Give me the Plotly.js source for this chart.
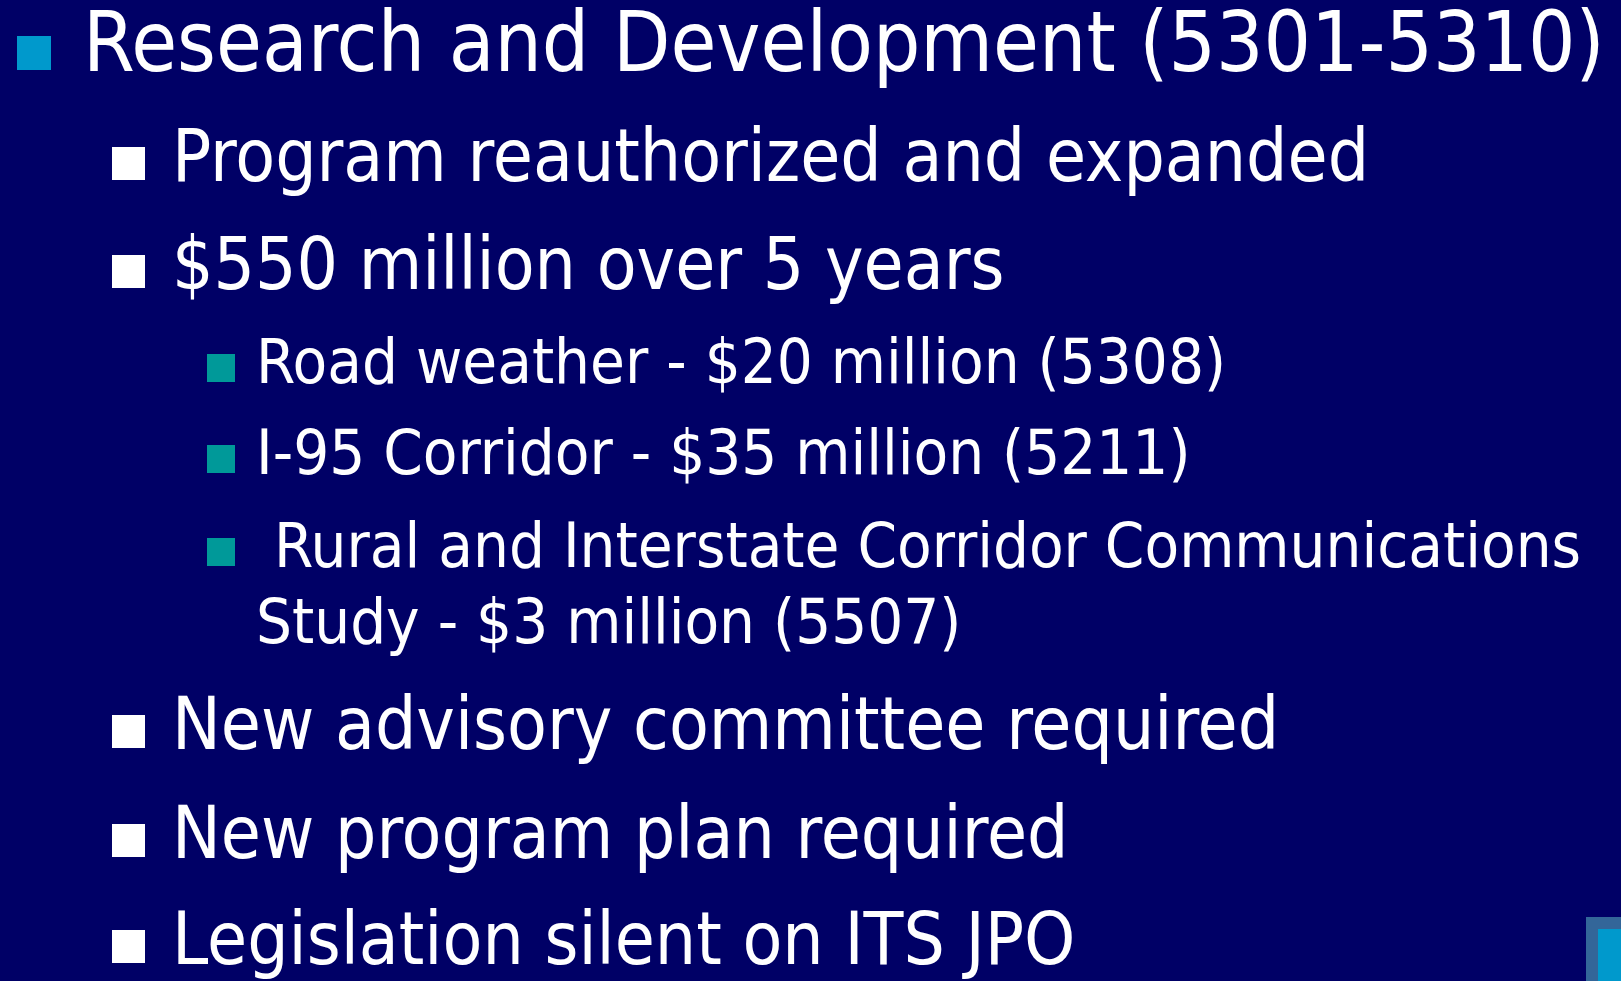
<!DOCTYPE html>
<html>
<head>
<meta charset="utf-8">
<script src="https://cdn.plot.ly/plotly-3.0.1.min.js"></script>
<style>
html,body{margin:0;padding:0;background:#000066;overflow:hidden;}
#slide{width:1621px;height:981px;}
</style>
</head>
<body>
<div id="slide"></div>
<script>
// ---- content ----
const itemText = [
  "Research and Development (5301-5310)",
  "Program reauthorized and expanded",
  "$550 million over 5 years",
  "Road weather - $20 million (5308)",
  "I-95 Corridor - $35 million (5211)",
  "\u00a0Rural and Interstate Corridor Communications",
  "Study - $3 million (5507)",
  "New advisory committee required",
  "New program plan required",
  "Legislation silent on ITS JPO"
];
const itemLevel  = [0, 1, 1, 2, 2, 2, 2, 1, 1, 1];
const itemBullet = [true, true, true, true, true, true, false, true, true, true];

// ---- layout / style (not data) ----
const baselineY = [73, 183, 291, 385, 476, 569, 645, 751, 860, 966];
const levelStyle = {
  0: {textX: 82,  size: 83,   bulletX: 17,  bulletSize: 34, bulletColor: "#0099CC"},
  1: {textX: 171, size: 72.5, bulletX: 112, bulletSize: 33, bulletColor: "#FFFFFF"},
  2: {textX: 255, size: 63,   bulletX: 207, bulletSize: 28, bulletColor: "#009999"}
};
const FONT = "DejaVu Sans Condensed";
const BG = "#000066";

const annotations = [];
const shapes = [];
itemText.forEach((t, i) => {
  const st = levelStyle[itemLevel[i]];
  const b = baselineY[i];
  annotations.push({
    x: st.textX, y: b - 0.346 * st.size - 2, xref: "x", yref: "y",
    xanchor: "left", yanchor: "middle", showarrow: false, borderpad: 0,
    text: t, font: {family: FONT, size: st.size, color: "#FFFFFF"}
  });
  if (itemBullet[i]) {
    const bottom = b - 3;
    shapes.push({
      type: "rect", xref: "x", yref: "y",
      x0: st.bulletX, x1: st.bulletX + st.bulletSize,
      y0: bottom - st.bulletSize, y1: bottom,
      fillcolor: st.bulletColor, line: {width: 0}
    });
  }
});
// corner decoration
shapes.push({type: "rect", xref: "x", yref: "y", x0: 1586, x1: 1621, y0: 917, y1: 981, fillcolor: "#336699", line: {width: 0}});
shapes.push({type: "rect", xref: "x", yref: "y", x0: 1598, x1: 1621, y0: 929, y1: 981, fillcolor: "#0099CC", line: {width: 0}});

const layout = {
  width: 1621, height: 981,
  margin: {l: 0, r: 0, t: 0, b: 0},
  paper_bgcolor: BG, plot_bgcolor: BG,
  xaxis: {range: [0, 1621], visible: false, fixedrange: true},
  yaxis: {range: [981, 0], visible: false, fixedrange: true},
  showlegend: false,
  annotations: annotations,
  shapes: shapes
};
Plotly.newPlot("slide", [], layout, {displayModeBar: false, staticPlot: true});
</script>
</body>
</html>
